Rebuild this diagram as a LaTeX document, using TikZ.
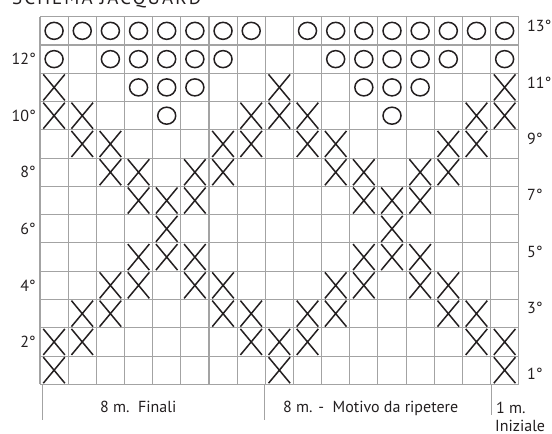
\documentclass[tikz,border=0pt]{standalone}
\usepackage{fontspec}
\setmainfont{PT Sans}
\definecolor{ink}{HTML}{231F20}
\definecolor{gridgray}{HTML}{A3A3A3}
\tikzset{
  gridline/.style={draw=gridgray, line width=1.1pt},
  xline/.style={draw=ink, line width=1.5pt},
  oline/.style={draw=ink, line width=1.5pt},
  rowlabel/.style={text=ink, inner sep=0pt, font=\fontsize{16}{16}\selectfont},
  foot/.style={text=ink, inner sep=0pt, anchor=base west, font=\fontsize{16}{16}\selectfont},
}
\begin{document}
\begin{tikzpicture}[x=1pt,y=-1pt]
\useasboundingbox (0,0) rectangle (552,434);
\def\gl{40}\def\gt{16.7}\def\cw{28.16}\def\ch{28.28}
% title (cut by the top edge, as in the reference)
\node[anchor=base west, inner sep=0pt, text=ink, font=\fontsize{19}{19}\selectfont] (title) at (12,4) {\addfontfeature{LetterSpace=11}SCHEMA JACQUARD};
% grid
\foreach \i in {0,...,17}{
  \draw[gridline] ({\gl+\i*\cw},\gt) -- ({\gl+\i*\cw},{\gt+13*\ch});
}
\foreach \j in {0,...,13}{
  \draw[gridline] (\gl,{\gt+\j*\ch}) -- ({\gl+17*\cw},{\gt+\j*\ch});
}
% crosses
\foreach \r/\cols in {1/{1,9,17},2/{1,2,8,9,10,16,17},3/{2,3,7,8,10,11,15,16},4/{3,4,6,7,11,12,14,15},5/{4,5,6,12,13,14},6/{5,13},7/{4,5,6,12,13,14},8/{3,4,6,7,11,12,14,15},9/{2,3,7,8,10,11,15,16},10/{1,2,8,9,10,16,17},11/{1,9,17}}{
  \foreach \c in \cols {
    \pgfmathsetmacro\cx{\gl+(\c-0.5)*\cw}
    \pgfmathsetmacro\cy{\gt+(13.5-\r)*\ch}
    \draw[xline] (\cx-10.8,\cy-13) -- (\cx+10.8,\cy+13) (\cx-10.8,\cy+13) -- (\cx+10.8,\cy-13);
  }
}
% circles
\foreach \r/\cols in {10/{5,13},11/{4,5,6,12,13,14},12/{1,3,4,5,6,7,11,12,13,14,15,17},13/{1,2,3,4,5,6,7,8,10,11,12,13,14,15,16,17}}{
  \foreach \c in \cols {
    \pgfmathsetmacro\cx{\gl+(\c-0.5)*\cw}
    \pgfmathsetmacro\cy{\gt+(13.5-\r)*\ch}
    \draw[oline] (\cx,\cy) ellipse [x radius=9pt, y radius=8.5pt];
  }
}
% left row labels
\foreach \r in {2,4,...,12}{
  \node[rowlabel, anchor=east] (l\r) at (36,{\gt+(13.5-\r)*\ch}) {\r°};
}
% right row labels
\foreach \r/\yy in {13/26,11/82.5,9/139,7/195,5/252,3/308,1/373.5}{
  \node[rowlabel, anchor=west] (r\r) at (527,\yy) {\r°};
}
% separators
\draw[gridline, line width=0.9pt] (42,384.3) -- (42,420);
\draw[gridline, line width=0.9pt] (264.5,384.3) -- (264.5,420);
\draw[gridline, line width=0.9pt] (491,384.3) -- (491,415);
% footer texts
\node[foot] (finali) at (100,412) {8 m.\ \ Finali};
\node[foot] (motivo) at (283,412) {8 m. -\ \ Motivo da ripetere};
\node[foot] (unom) at (496,413) {1 m.};
\node[foot] (iniz) at (495,431) {Iniziale};
\end{tikzpicture}
\end{document}
